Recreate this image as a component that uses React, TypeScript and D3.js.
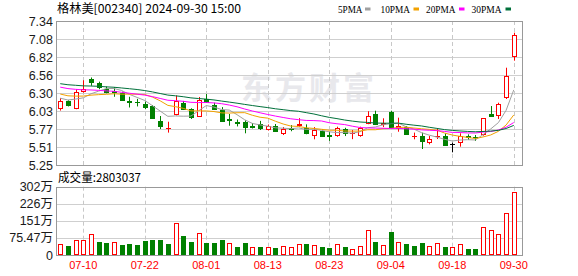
import React from 'react';
import * as d3 from 'd3';

const title = '格林美[002340] 2024-09-30 15:00';
const volumeTitle = '成交量:2803037';

const dates = [
  '07-05','07-08','07-09','07-10','07-11','07-12','07-15','07-16','07-17','07-18','07-19','07-22','07-23','07-24','07-25','07-26','07-29','07-30','07-31',
  '08-01','08-02','08-05','08-06','08-07','08-08','08-09','08-12','08-13','08-14','08-15','08-16','08-19','08-20','08-21','08-22','08-23','08-26','08-27','08-28','08-29','08-30',
  '09-02','09-03','09-04','09-05','09-06','09-09','09-10','09-11','09-12','09-13','09-18','09-19','09-20','09-23','09-24','09-25','09-26','09-27','09-30',
];

const opens = [
  6.08, 6.18, 6.08, 6.32, 6.50, 6.445, 6.35, 6.32, 6.30, 6.18,
  6.17, 6.135, 6.106, 5.893, 5.78, 5.99, 6.157, 6.058, 5.966, 6.215,
  6.128, 6.055, 5.92, 5.87, 5.867, 5.815, 5.852, 5.772, 5.823, 5.719,
  5.78, 5.83, 5.794, 5.685, 5.743, 5.69, 5.685, 5.768, 5.715, 5.685,
  5.864, 5.99, 5.845, 6.024, 5.783, 5.797, 5.665, 5.671, 5.588, 5.665,
  5.671, 5.55, 5.588, 5.675, 5.655, 5.696, 5.99, 5.976, 6.233, 6.832,
];
const highs = [
  6.22, 6.19, 6.35, 6.48, 6.52, 6.46, 6.39, 6.38, 6.315, 6.24,
  6.21, 6.17, 6.12, 5.961, 5.878, 6.26, 6.18, 6.073, 6.237, 6.28,
  6.154, 6.09, 5.99, 5.91, 5.90, 5.86, 5.89, 5.838, 5.845, 5.80,
  5.83, 5.93, 5.84, 5.80, 5.77, 5.735, 5.806, 5.79, 5.758, 5.806,
  6.03, 6.038, 5.928, 6.038, 5.937, 5.816, 5.72, 5.719, 5.67, 5.78,
  5.71, 5.574, 5.71, 5.695, 5.685, 5.93, 6.106, 6.154, 6.662, 7.17,
];
const lows = [
  6.04, 6.10, 6.06, 6.30, 6.40, 6.35, 6.29, 6.24, 6.19, 6.085,
  6.10, 6.06, 5.928, 5.772, 5.72, 5.97, 6.048, 5.918, 5.947, 6.154,
  6.048, 5.878, 5.82, 5.81, 5.71, 5.78, 5.758, 5.75, 5.729, 5.685,
  5.74, 5.80, 5.696, 5.623, 5.656, 5.60, 5.66, 5.67, 5.625, 5.66,
  5.842, 5.83, 5.80, 5.797, 5.733, 5.696, 5.623, 5.482, 5.55, 5.627,
  5.535, 5.434, 5.516, 5.613, 5.60, 5.676, 5.95, 5.918, 6.208, 6.764,
];
const closes = [
  6.18, 6.125, 6.31, 6.35, 6.45, 6.378, 6.31, 6.315, 6.20, 6.17,
  6.16, 6.087, 5.937, 5.809, 5.79, 6.186, 6.07, 5.947, 6.193, 6.169,
  6.07, 5.893, 5.91, 5.86, 5.797, 5.805, 5.787, 5.816, 5.743, 5.768,
  5.772, 5.84, 5.71, 5.765, 5.675, 5.67, 5.783, 5.71, 5.72, 5.783,
  5.961, 5.838, 5.864, 5.806, 5.816, 5.70, 5.672, 5.603, 5.627, 5.672,
  5.54, 5.55, 5.671, 5.655, 5.65, 5.928, 5.961, 6.131, 6.542, 7.137,
];
// volume in 万手
const volumes = [
  47, 40, 65, 65, 91, 57, 53, 56, 44, 49,
  44, 62, 66, 66, 49, 140, 84, 58, 96, 54,
  54, 66, 52, 37, 53, 37, 37, 37, 32, 40,
  37, 49, 49, 44, 37, 32, 47, 37, 25, 40,
  110, 59, 44, 103, 56, 49, 40, 53, 40, 52,
  37, 34, 47, 26, 26, 122, 109, 91, 184, 280.3,
];
// closes before the visible window (estimated so the moving averages start where the chart shows them)
const priorCloses = [
  6.58, 6.55, 6.60, 6.52, 6.50, 6.55, 6.48, 6.52, 6.50, 6.50,
  6.55, 6.52, 6.50, 6.48, 6.50, 6.46, 6.45, 6.48, 6.44, 6.42,
  6.38, 6.36, 6.34, 6.32, 6.30,
  6.26, 6.24, 6.26, 6.16,
];

const priceTickLabels = ['5.25', '5.51', '5.77', '6.03', '6.30', '6.56', '6.82', '7.08', '7.34'];
const volumeTickLabels = ['0', '75.47万', '151万', '226万', '302万'];
const dateTickLabels = ['07-10', '07-22', '08-01', '08-13', '08-23', '09-04', '09-18', '09-30'];

const maPeriods = [5, 10, 20, 30];
const maNames = ['5PMA', '10PMA', '20PMA', '30PMA'];
const maColors = ['#a0a0a0', '#f2a100', '#ff00ff', '#00703a'];

const RED = '#ff0000';
const GREEN = '#008000';

export default function App() {
  const W = 578, H = 276;
  const L = 56, R = 522;
  const pTop = 21, pBot = 165;
  const vTop = 186.7, vBot = 255;
  const priceMin = 5.25, priceMax = 7.34;
  const volMax = 301.88;

  const x = d3.scaleBand<string>().domain(dates).range([56.4, 517.6]).paddingInner(0).paddingOuter(0);
  const cx = (i: number) => (x(dates[i]) as number) + x.bandwidth() / 2;
  const px = (i: number) => Math.round(cx(i)) + 0.5;
  const y = d3.scaleLinear().domain([priceMin, priceMax]).range([pBot, pTop]);
  const yv = d3.scaleLinear().domain([0, volMax]).range([vBot, vTop]);

  const all = priorCloses.concat(closes);
  const off = priorCloses.length;
  const maSeries = maPeriods.map((n) =>
    closes.map((_, i) => d3.mean(all.slice(off + i - n + 1, off + i + 1)) as number)
  );
  const line = d3.line<number>().x((_, i) => cx(i)).y((v) => y(v));

  const priceTickVals = priceTickLabels.map((_, k) => priceMin + (k * (priceMax - priceMin)) / (priceTickLabels.length - 1));
  const volTickVals = volumeTickLabels.map((_, k) => (k * volMax) / (volumeTickLabels.length - 1));
  const ry = (v: number) => Math.round(v) + 0.5;

  const legendTextX = [338, 380.5, 426, 471.5];
  const legendTextW = [24.5, 29.5, 29.5, 30];
  const legendBoxX = [365, 413.5, 459, 505.5];

  return (
    <svg width={W} height={H} style={{ position: 'absolute', left: 0, top: 0, background: '#fff' }}>
      <rect x={0} y={0} width={W} height={H} fill="#fff" />
      {/* title */}
      <text x={57} y={13} fontFamily="Noto Sans CJK SC" fontSize={12} fill="#000" textLength={184} lengthAdjust="spacingAndGlyphs">{title}</text>
      {/* legend */}
      {maNames.map((n, k) => (
        <g key={n}>
          <text x={legendTextX[k]} y={12.5} fontFamily="Liberation Serif" fontSize={11} fill="#000" textLength={legendTextW[k]} lengthAdjust="spacingAndGlyphs">{n}</text>
          <rect x={legendBoxX[k]} y={7.5} width={5.5} height={3} fill={maColors[k]} />
        </g>
      ))}

      {/* watermark */}
      <text x={309} y={99} textAnchor="middle" fontFamily="Noto Sans CJK SC" fontWeight="bold" fontSize={31} fill="#e8e8ec" letterSpacing={3}>东方财富</text>

      {/* price grid */}
      {priceTickVals.slice(1, -1).map((v, k) => (
        <line key={'pg' + k} x1={L} x2={R} y1={ry(y(v))} y2={ry(y(v))} stroke="#cfcfcf" strokeWidth={1} />
      ))}
      {volTickVals.slice(1, -1).map((v, k) => (
        <line key={'vg' + k} x1={L} x2={R} y1={ry(yv(v))} y2={ry(yv(v))} stroke="#cfcfcf" strokeWidth={1} />
      ))}
      {dateTickLabels.map((d) => {
        const i = dates.indexOf(d);
        return (
          <g key={'dg' + d}>
            <line x1={px(i)} x2={px(i)} y1={pTop} y2={pBot} stroke="#c8c8c8" strokeDasharray="4,3" />
            <line x1={px(i)} x2={px(i)} y1={vTop} y2={vBot} stroke="#c8c8c8" strokeDasharray="4,3" />
          </g>
        );
      })}

      {/* frames */}
      <rect x={L + 0.5} y={pTop + 0.5} width={R - L} height={pBot - pTop} fill="none" stroke="#999" />
      <rect x={L + 0.5} y={ry(vTop)} width={R - L} height={vBot - Math.round(vTop)} fill="none" stroke="#999" />

      {/* candles */}
      {closes.map((c, i) => {
        const o = opens[i];
        const col = c > o ? RED : c < o ? GREEN : '#000';
        const top = Math.round(y(Math.max(o, c)));
        const bot = Math.round(y(Math.min(o, c)));
        const h = Math.max(0, bot - top);
        return (
          <g key={'c' + i}>
            <line x1={px(i)} x2={px(i)} y1={y(highs[i])} y2={y(lows[i])} stroke={col} strokeWidth={1} />
            {h < 1 ? (
              <line x1={px(i) - 2.5} x2={px(i) + 2.5} y1={top + 0.5} y2={top + 0.5} stroke={col} />
            ) : (
              <rect x={px(i) - 2} y={top + 0.5} width={4} height={h} fill={c > o ? '#fff' : col} stroke={col} strokeWidth={1} />
            )}
          </g>
        );
      })}

      {/* moving averages */}
      {maSeries.map((s, k) => (
        <path key={'ma' + k} d={line(s) as string} fill="none" stroke={maColors[k]} strokeWidth={1} />
      ))}

      {/* volume */}
      {volumes.map((v, i) => {
        const prev = i === 0 ? priorCloses[priorCloses.length - 1] : closes[i - 1];
        const up = closes[i] >= prev;
        const col = up ? RED : GREEN;
        const top = Math.round(yv(v));
        return (
          <rect key={'v' + i} x={px(i) - 2} y={top + 0.5} width={4} height={vBot - 1 - top} fill={up ? '#fff' : col} stroke={col} strokeWidth={1} />
        );
      })}

      {/* axis labels */}
      {priceTickVals.map((v, k) => (
        <text key={'pl' + k} x={53} y={y(v)} dy="0.36em" textAnchor="end" fontFamily="Liberation Sans" fontSize={12.5} fill="#1a1a1a">{priceTickLabels[k]}</text>
      ))}
      {volTickVals.map((v, k) => (
        <text key={'vl' + k} x={53} y={yv(v)} dy="0.36em" textAnchor="end" fontFamily="Liberation Sans, Noto Sans CJK SC" fontSize={12.5} fill="#1a1a1a">{volumeTickLabels[k]}</text>
      ))}
      <text x={58} y={182} fontFamily="Noto Sans CJK SC" fontSize={12} fill="#000" textLength={83} lengthAdjust="spacingAndGlyphs">{volumeTitle}</text>
      {dateTickLabels.map((d) => (
        <text key={'dl' + d} x={cx(dates.indexOf(d))} y={269} textAnchor="middle" fontFamily="Liberation Sans" fontSize={11} fill={RED}>{d}</text>
      ))}
    </svg>
  );
}
